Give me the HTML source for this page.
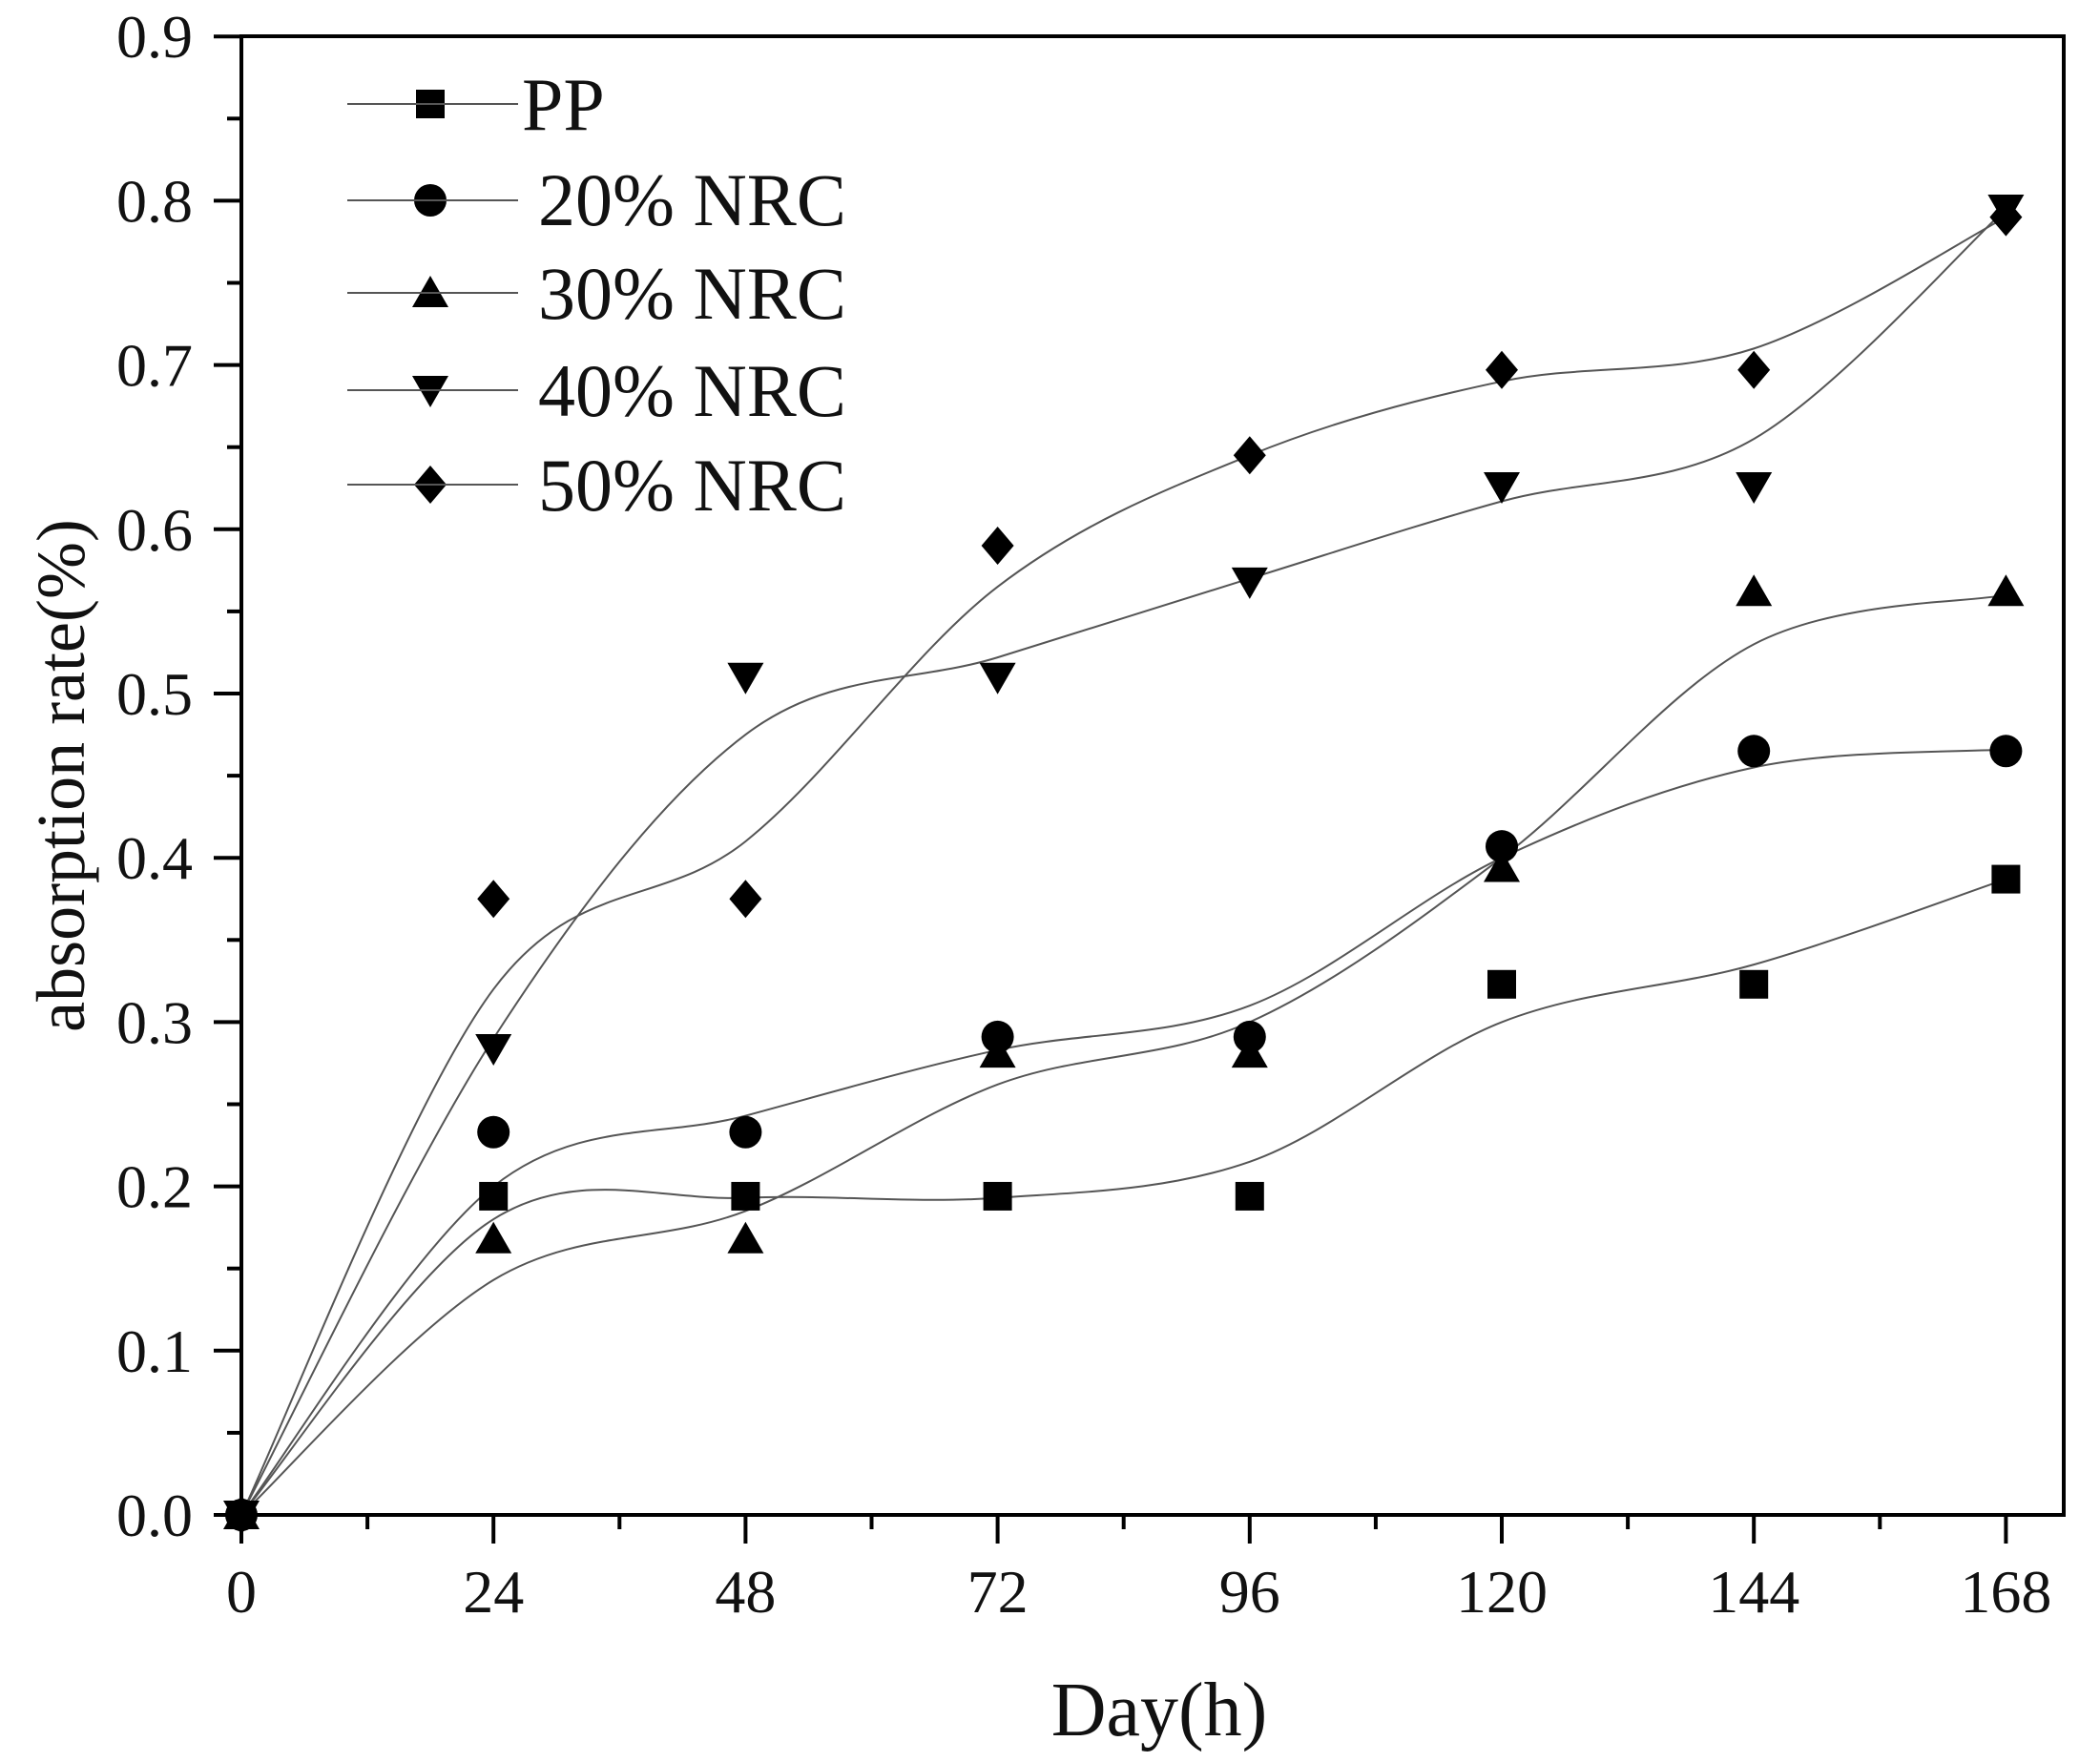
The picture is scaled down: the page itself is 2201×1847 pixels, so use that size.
<!DOCTYPE html>
<html><head><meta charset="utf-8"><style>
html,body{margin:0;padding:0;background:#fff}
svg{display:block}
text{font-family:"Liberation Serif",serif;fill:#111}
</style></head><body>
<svg id="s" width="2201" height="1847" viewBox="0 0 2201 1847" xmlns="http://www.w3.org/2000/svg">
<g id="curves" fill="none" stroke="#555" stroke-width="2"></g>
<g id="marks" fill="#000"></g>
<g id="axes" stroke="#000" stroke-width="4" fill="none">
<rect x="253" y="38" width="1910" height="1550"/>
</g>
<g id="ticks" stroke="#000" stroke-width="4"></g>
<g id="yl" font-size="64" text-anchor="end"></g>
<g id="xl" font-size="64" text-anchor="middle"></g>
<text x="1215" y="1819" font-size="80" text-anchor="middle">Day(h)</text>
<text transform="translate(88,813) rotate(-90)" font-size="72" text-anchor="middle">absorption rate(%)</text>
<g id="legend" stroke="#555" stroke-width="2"></g>
<g font-size="78">
<text x="547" y="136">PP</text>
<text x="564" y="236">20% NRC</text>
<text x="564" y="334">30% NRC</text>
<text x="564" y="436">40% NRC</text>
<text x="564" y="535">50% NRC</text>
</g>
</svg>
<script>
var NS="http://www.w3.org/2000/svg";
function X(h){return 253+h*264.2/24}
function Y(v){return 1588-v*1722}
function el(p,t,a){var e=document.createElementNS(NS,t);for(var k in a)e.setAttribute(k,a[k]);p.appendChild(e);return e}
var T=document.getElementById("ticks");
for(var h=0;h<=168;h+=12){var M=h%24==0;el(T,"line",{x1:X(h),x2:X(h),y1:1588,y2:1588+(M?30:15)})}
for(var i=0;i<=18;i++){var v=i*0.05;var M=i%2==0;el(T,"line",{x1:253,x2:253-(M?29:15),y1:Y(v),y2:Y(v)})}
var yl=document.getElementById("yl"),xl=document.getElementById("xl");
for(var i=0;i<=9;i++){var t=el(yl,"text",{x:202,y:Y(i/10)+22});t.textContent=(i/10).toFixed(1)}
for(var h=0;h<=168;h+=24){var t=el(xl,"text",{x:X(h),y:1690});t.textContent=h}
var data=[
["sq",[0,.194,.194,.194,.194,.323,.323,.387],[0,.18,.193,.193,.215,.30,.335,.387]],
["ci",[0,.233,.233,.291,.291,.407,.465,.465],[0,.2,.243,.283,.31,.40,.455,.466]],
["up",[0,.168,.168,.281,.281,.394,.562,.562],[0,.143,.185,.262,.30,.40,.53,.56]],
["dn",[0,.284,.510,.510,.568,.626,.626,.795],[0,.29,.475,.522,.57,.617,.655,.795]],
["di",[0,.375,.375,.59,.645,.697,.697,.79],[0,.32,.41,.565,.645,.69,.71,.79]]];
var C=document.getElementById("curves"),K=document.getElementById("marks"),L=document.getElementById("legend");
function mark(p,t,x,y){
 if(t=="sq")el(p,"rect",{x:x-15,y:y-15,width:30,height:30});
 if(t=="ci")el(p,"circle",{cx:x,cy:y,r:17});
 if(t=="up")el(p,"polygon",{points:(x)+","+(y-18)+" "+(x-19)+","+(y+15)+" "+(x+19)+","+(y+15)});
 if(t=="dn")el(p,"polygon",{points:(x)+","+(y+18)+" "+(x-19)+","+(y-15)+" "+(x+19)+","+(y-15)});
 if(t=="di")el(p,"polygon",{points:x+","+(y-20)+" "+(x+17)+","+y+" "+x+","+(y+20)+" "+(x-17)+","+y});
}
data.forEach(function(d,j){
 var P=d[2].map(function(v,i){return [X(i*24),Y(v)]});
 var s="M"+P[0][0]+","+P[0][1];
 for(var i=0;i<P.length-1;i++){
  var p0=P[Math.max(0,i-1)],p1=P[i],p2=P[i+1],p3=P[Math.min(P.length-1,i+2)];
  s+=" C"+(p1[0]+(p2[0]-p0[0])/6)+","+(p1[1]+(p2[1]-p0[1])/6)+" "+(p2[0]-(p3[0]-p1[0])/6)+","+(p2[1]-(p3[1]-p1[1])/6)+" "+p2[0]+","+p2[1];
 }
 el(C,"path",{d:s});
 d[1].forEach(function(v,i){mark(K,d[0],X(i*24),Y(v))});
 var ly=[109,210,307,409,508][j];
 el(L,"line",{x1:364,x2:543,y1:ly,y2:ly});
 mark(K,d[0],451,ly);
});
</script>
</body></html>
